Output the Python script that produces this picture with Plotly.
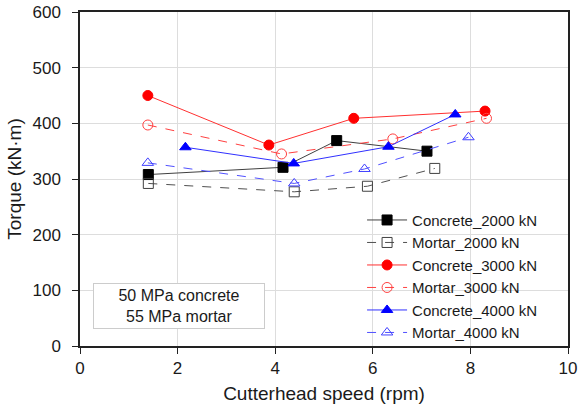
import plotly.graph_objects as go

# Data
c2000_x = [1.40, 4.16, 5.26, 7.11]
c2000_y = [308, 321, 369, 350]
m2000_x = [1.40, 4.39, 5.89, 7.27]
m2000_y = [292, 277, 287, 319]
c3000_x = [1.39, 3.87, 5.61, 8.30]
c3000_y = [450, 361, 409, 422]
m3000_x = [1.39, 4.13, 6.41, 8.33]
m3000_y = [397, 345, 372, 409]
c4000_x = [2.16, 4.38, 6.32, 7.69]
c4000_y = [357, 328, 358, 416]
m4000_x = [1.39, 4.39, 5.83, 7.96]
m4000_y = [329, 292, 318, 375]

series = [
    ("Concrete_2000 kN", c2000_x, c2000_y, "#404040", "solid", "square", "#000000", "#000000", 10),
    ("Mortar_2000 kN", m2000_x, m2000_y, "#505050", "dash", "square-open", "#404040", "#404040", 10),
    ("Concrete_3000 kN", c3000_x, c3000_y, "#FF3030", "solid", "circle", "#FF0000", "#FF0000", 10),
    ("Mortar_3000 kN", m3000_x, m3000_y, "#FF4040", "dash", "circle-open", "#FF4040", "#FF4040", 10),
    ("Concrete_4000 kN", c4000_x, c4000_y, "#3030FF", "solid", "triangle-up", "#0000FF", "#0000FF", 10),
    ("Mortar_4000 kN", m4000_x, m4000_y, "#5050FF", "dash", "triangle-up-open", "#4040FF", "#4040FF", 10),
]

fig = go.Figure()
for name, xs, ys, lc, dash, sym, mc, mlc, ms in series:
    fig.add_trace(go.Scatter(
        x=xs, y=ys, name=name, mode="lines+markers",
        line=dict(color=lc, width=1, dash=dash),
        marker=dict(symbol=sym, color=mc, size=ms, line=dict(color=mlc, width=1)),
    ))

font_family = "Liberation Sans, Arial, sans-serif"
fig.update_layout(
    width=579, height=412,
    margin=dict(l=80, r=11, t=12, b=66),
    paper_bgcolor="white", plot_bgcolor="white",
    font=dict(family=font_family, size=16, color="#1a1a1a"),
    showlegend=True,
    legend=dict(x=0.578, y=0.426, xanchor="left", yanchor="top",
                bgcolor="rgba(255,255,255,0)",
                font=dict(family=font_family, size=15, color="#1a1a1a"),
                tracegroupgap=0, itemwidth=40),
    xaxis=dict(range=[0, 10], dtick=2, showgrid=True, gridcolor="#DDDDDD", gridwidth=1,
               showline=True, linecolor="#222222", linewidth=1.5, mirror=True,
               ticks="outside", ticklen=6, tickcolor="#222222", zeroline=False,
               automargin=False,
               title=dict(text="Cutterhead speed (rpm)", standoff=10,
                          font=dict(family=font_family, size=19, color="#1a1a1a")),
               tickfont=dict(family=font_family, size=17, color="#1a1a1a")),
    yaxis=dict(range=[0, 600], dtick=100, showgrid=True, gridcolor="#DDDDDD", gridwidth=1,
               showline=True, linecolor="#222222", linewidth=1.5, mirror=True,
               ticks="outside", ticklen=6, tickcolor="#222222", zeroline=False,
               automargin=False, ticklabelstandoff=8,
               title=dict(text="Torque (kN·m)", standoff=6,
                          font=dict(family=font_family, size=19, color="#1a1a1a")),
               tickfont=dict(family=font_family, size=17, color="#1a1a1a")),
    annotations=[dict(
        x=0.203, y=0.12, xref="paper", yref="paper", xanchor="center", yanchor="middle",
        text="50 MPa concrete<br>55 MPa mortar", showarrow=False,
        font=dict(family=font_family, size=16, color="#1a1a1a"),
        bordercolor="#CCCCCC", borderwidth=1, borderpad=3, bgcolor="white",
        width=164, align="center",
    )],
)

fig.write_html("out.html")
